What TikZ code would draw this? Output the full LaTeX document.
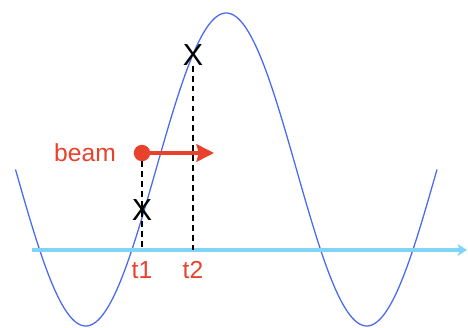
\documentclass[tikz,border=0pt]{standalone}
\usepackage{fontspec}
\setmainfont{Liberation Sans}
\usetikzlibrary{arrows.meta}
\definecolor{beamred}{HTML}{E8412C}
\definecolor{wavecol}{HTML}{4B6BEF}
\definecolor{axiscol}{HTML}{80D4F8}

\begin{document}
\begin{tikzpicture}[x=0.03cm, y=-0.03cm,
    cross/.style={font=\fontsize{26}{26}\selectfont, inner sep=0pt},
    tlabel/.style={text=beamred, font=\fontsize{21}{21}\selectfont, inner sep=0pt},
    guide/.style={dash pattern=on 5pt off 3.5pt, line width=1pt}]
    \useasboundingbox (0,0) rectangle (468,327);

    % Wave
    \draw[wavecol, line width=1.1pt, domain=15.5:437, samples=200]
        plot (\x, {169.5+156.5*sin(1.28114*(\x-15.5))});

    % Time axis
    \coordinate (ax0) at (32,250);
    \coordinate (ax1) at (467,250);
    \draw[axiscol, line width=3pt, -{Stealth[length=8pt, width=10pt, inset=2pt]}] (ax0) -- (ax1);

    % Beam
    \node[circle, fill=beamred, minimum size=14pt, inner sep=0pt] (dot) at (142,153) {};
    \node[tlabel, anchor=east] (beam) at (116,153) {beam};
    \coordinate (tip) at (214,153);
    \draw[beamred, line width=3pt, -{Stealth[length=15pt, width=15pt, inset=2pt]}] (dot.center) -- (tip);

    % Crossings
    \node[cross] (x1) at (142,210) {X};
    \node[cross] (x2) at (193,55) {X};
    \coordinate (f1) at (142,250);
    \coordinate (f2) at (193,250);
    \draw[guide] (dot) -- (f1);
    \draw[guide] (x2) -- (f2);

    % Times
    \node[tlabel] (t1) at (142,270) {t1};
    \node[tlabel] (t2) at (193,270) {t2};
\end{tikzpicture}
\end{document}
